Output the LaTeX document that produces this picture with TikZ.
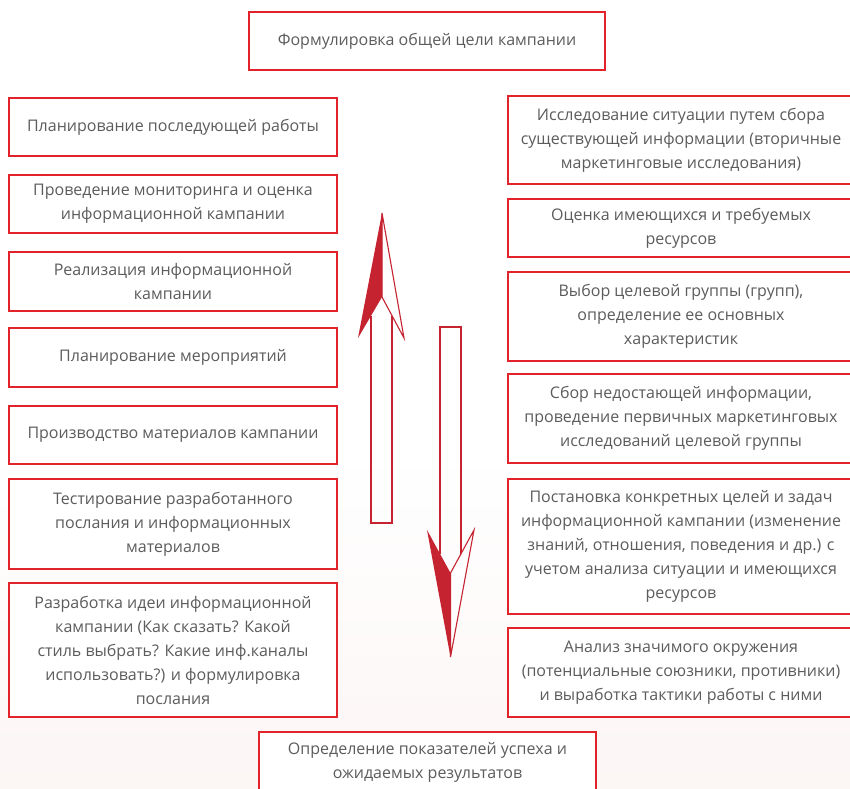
\documentclass[tikz,border=0pt]{standalone}
\usepackage{fontspec}
\setmainfont{Open Sans}
\usepackage{tikz}
\usetikzlibrary{calc}
\definecolor{boxred}{RGB}{226,35,42}
\definecolor{arrowred}{RGB}{198,35,48}
\definecolor{textgray}{RGB}{92,92,92}
\definecolor{bgpink}{RGB}{252,246,245}
\tikzset{
	stage/.style={draw=boxred, line width=1.1pt, fill=white, rectangle, align=center, inner sep=0pt, text=textgray, font=\fontsize{16}{24}\selectfont},
	arrowline/.style={draw=arrowred, line width=1.1pt, line join=miter}
}

\begin{document}
\begin{tikzpicture}[x=1pt, y=-1pt]
			%%%%% START %%%%%
			
			\useasboundingbox (0, 0) rectangle (850, 788);
			\clip (0, 0) rectangle (850, 788);
			\fill[white] (0, 0) rectangle (850, 450);
			\shade[top color=white, bottom color=bgpink] (0, 450) rectangle (850, 788);
			
			\node[stage, minimum width=356pt, minimum height=58pt] (goal) at (427, 41) {Формулировка общей цели кампании};
			
			\node[stage, minimum width=328pt, minimum height=58pt] (plannext) at (173, 127) {Планирование последующей работы};
			\node[stage, minimum width=328pt, minimum height=58pt] (monitor) at (173, 204) {Проведение мониторинга и оценка\\информационной кампании};
			\node[stage, minimum width=328pt, minimum height=59pt] (launch) at (173, 281.5) {Реализация информационной\\кампании};
			\node[stage, minimum width=328pt, minimum height=59pt] (events) at (173, 357.5) {Планирование мероприятий};
			\node[stage, minimum width=328pt, minimum height=58pt] (produce) at (173, 435) {Производство материалов кампании};
			\node[stage, minimum width=328pt, minimum height=90pt] (pretest) at (173, 524) {Тестирование разработанного\\послания и информационных\\материалов};
			\node[stage, minimum width=328pt, minimum height=134pt] (idea) at (173, 650) {Разработка идеи информационной\\кампании (Как сказать? Какой\\стиль выбрать? Какие инф.каналы\\использовать?) и формулировка\\послания};
			
			\node[stage, minimum width=346pt, minimum height=88pt] (desk) at (681, 140) {Исследование ситуации путем сбора\\существующей информации (вторичные\\маркетинговые исследования)};
			\node[stage, minimum width=346pt, minimum height=58pt] (resources) at (681, 228) {Оценка имеющихся и требуемых\\ресурсов};
			\node[stage, minimum width=346pt, minimum height=89pt] (target) at (681, 316.5) {Выбор целевой группы (групп),\\определение ее основных\\характеристик};
			\node[stage, minimum width=346pt, minimum height=89pt] (field) at (681, 418.5) {Сбор недостающей информации,\\проведение первичных маркетинговых\\исследований целевой группы};
			\node[stage, minimum width=346pt, minimum height=135pt] (aims) at (681, 546.5) {Постановка конкретных целей и задач\\информационной кампании (изменение\\знаний, отношения, поведения и др.) с\\учетом анализа ситуации и имеющихся\\ресурсов};
			\node[stage, minimum width=346pt, minimum height=89pt] (allies) at (681, 672.5) {Анализ значимого окружения\\(потенциальные союзники, противники)\\и выработка тактики работы с ними};
			
			\node[stage, minimum width=337pt, minimum height=60pt] (results) at (427.5, 762) {Определение показателей успеха и\\ожидаемых результатов};
			
			% up arrow
			\draw[arrowline] (371, 315.6) -- (371, 523) -- (392, 523) -- (392, 315.6);
			\draw[arrowline, fill=white] (382, 213) -- (404, 338) -- (382, 297) -- cycle;
			\fill[arrowred] (382, 213) -- (358, 338) -- (382, 297) -- cycle;
			
			% down arrow
			\draw[arrowline] (440, 553.8) -- (440, 327) -- (461, 327) -- (461, 553.8);
			\draw[arrowline, fill=white] (474, 530) -- (450.5, 657) -- (450.5, 573) -- cycle;
			\fill[arrowred] (427, 530) -- (450.5, 573) -- (450.5, 657) -- cycle;
			
			%%%%% END %%%%%
		\end{tikzpicture}
\end{document}
